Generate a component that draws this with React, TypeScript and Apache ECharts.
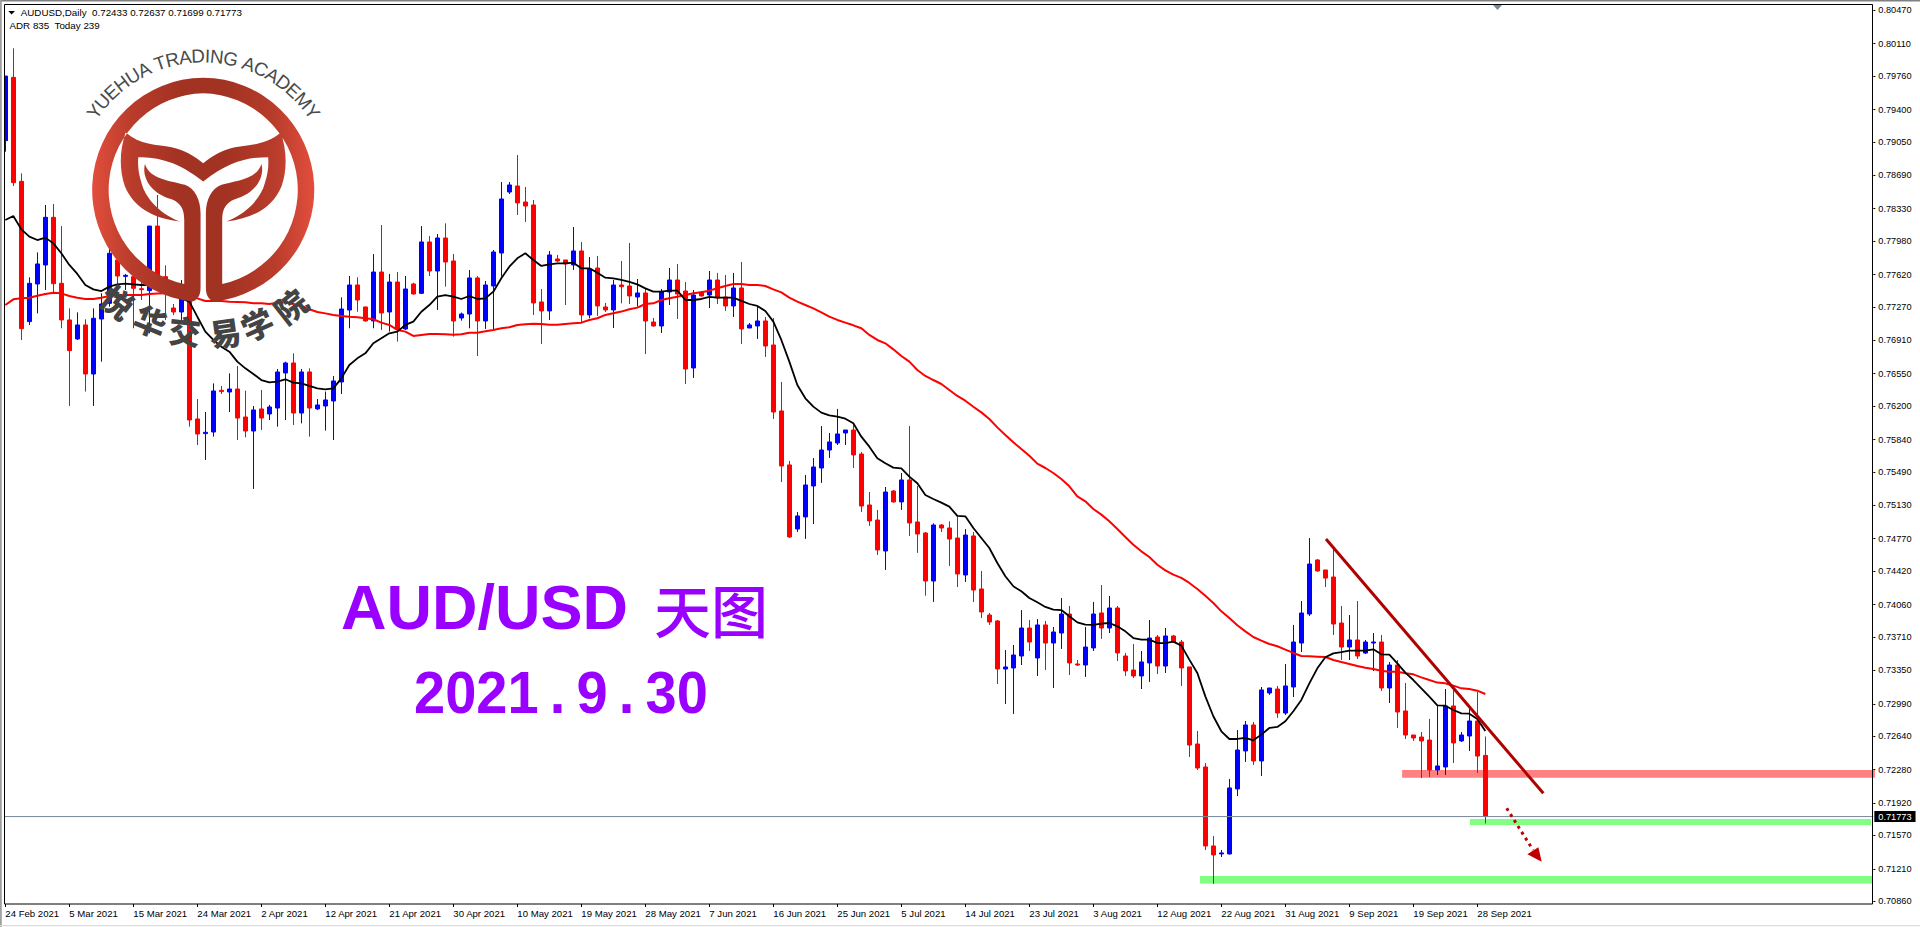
import React, { useEffect, useRef } from "react";
import * as echarts from "echarts";

const SCALE = 100000;
const tickDates = ["24 Feb 2021","5 Mar 2021","15 Mar 2021","24 Mar 2021","2 Apr 2021","12 Apr 2021","21 Apr 2021","30 Apr 2021","10 May 2021","19 May 2021","28 May 2021","7 Jun 2021","16 Jun 2021","25 Jun 2021","5 Jul 2021","14 Jul 2021","23 Jul 2021","3 Aug 2021","12 Aug 2021","22 Aug 2021","31 Aug 2021","9 Sep 2021","19 Sep 2021","28 Sep 2021"];
const priceTicks = [0.8047,0.8011,0.7976,0.794,0.7905,0.7869,0.7833,0.7798,0.7762,0.7727,0.7691,0.7655,0.762,0.7584,0.7549,0.7513,0.7477,0.7442,0.7406,0.7371,0.7335,0.7299,0.7264,0.7228,0.7192,0.7157,0.7121,0.7086];

const opens = [79064,79747,78625,77112,77518,77723,78237,77525,77130,76925,
77076,76547,77140,77309,77777,77600,77597,77467,77446,78143,
77597,77259,77216,77345,76062,75904,75921,76371,76353,76385,
76083,75932,76170,76116,76180,76558,76666,76126,76569,76170,
76202,76256,76461,77237,77507,77270,77119,77647,77216,77539,
77032,77518,77417,77971,77658,78014,77766,77151,77194,77583,
77119,77496,77852,78510,78575,78402,78370,77324,77227,77788,
77777,77723,77874,77184,77690,77270,77238,77507,77496,77378,
77421,77108,77065,77432,77561,77442,76612,77432,77399,77561,
77378,77281,77475,77043,77065,77119,76860,76148,75566,74875,
75005,75339,75533,75727,75803,75911,75943,75684,75134,74972,
74638,75285,75167,75404,74951,74832,74314,74918,74886,74778,
74379,74800,74228,73947,73883,73365,73376,73505,73807,73484,
73840,73645,73753,73958,73419,73408,73592,73969,73807,74023,
73505,73354,73290,73430,73710,73397,73721,73656,73387,72556,
72308,71456,71370,71370,72071,72481,72761,72373,73106,73149,
72890,73171,73645,73958,74541,74433,74357,73861,73602,73678,
73537,73645,73656,73160,73408,72912,72653,72631,72599,72276,
72308,72966,72589,72642,72804,72433];

const closes = [79761,78611,77036,77525,77734,78237,77521,77130,76799,77076,
76547,77148,77302,77849,77604,77611,77471,77457,78143,77604,
77435,77216,77453,76051,75900,75918,76364,76357,76385,76072,
75932,76159,76072,76191,76569,76666,76126,76569,76180,76213,
76267,76472,77248,77507,77345,77119,77647,77205,77539,77032,
77464,77410,77971,77658,78014,77755,77119,77194,77583,77119,
77507,77863,78435,78586,78392,78359,77313,77227,77831,77766,
77734,77874,77184,77680,77281,77238,77507,77489,77389,77421,
77119,77065,77432,77561,77410,76601,77399,77389,77561,77367,
77281,77475,77033,77076,77119,76849,76137,75555,74789,75016,
75350,75544,75727,75814,75900,75943,75674,75123,74962,74649,
75274,75167,75404,74940,74821,74314,74918,74886,74767,74390,
74810,74217,73980,73872,73365,73387,73516,73807,73656,73840,
73645,73764,73958,73430,73408,73602,73958,73807,74023,73538,
73344,73290,73441,73699,73397,73721,73656,73376,72545,72297,
71456,71359,71381,72082,72491,72761,72373,73139,73160,72890,
73182,73656,73969,74497,74422,74346,73850,73602,73678,73505,
73656,73656,73160,73408,72901,72653,72621,72589,72276,72319,
72966,72567,72653,72804,72426,71773];

const highs = [79761,80060,78711,77590,77859,78370,78381,78143,77255,77212,
77137,77255,77417,77920,77849,77626,77741,77561,78143,78478,
77719,77302,77561,77381,76277,76137,76446,76418,76554,76633,
76367,76202,76374,76213,76601,76680,76770,76601,76608,76277,
76357,76525,77374,77604,77590,77273,77841,78154,77626,77647,
77604,77532,78143,78036,78057,78172,77841,77209,77669,77604,
77550,77885,78618,78618,78909,78564,78424,77464,77874,77831,
77777,78133,77971,77809,77820,77313,77561,77766,77960,77572,
77471,77151,77464,77690,77734,77540,77453,77442,77658,77637,
77615,77637,77755,77097,77274,77162,77151,76461,75609,75059,
75458,75641,75986,75911,76170,75943,75997,75706,75274,75080,
75328,75296,75479,75986,75339,74843,74936,74929,74958,75012,
74875,74843,74422,73969,73894,73570,73624,74001,73894,73904,
73883,73818,74131,74045,73462,73818,74088,74271,74152,74045,
73538,73635,73559,73894,73732,73807,73732,73678,73387,72696,
72351,71564,71413,72179,72707,72804,72793,73171,73160,73182,
73419,73840,74098,74778,74551,74433,74670,74044,73947,74098,
73678,73753,73732,73440,73462,73214,72653,72685,72826,72977,
73149,73182,72685,72933,73117,72637];

const lows = [78945,78575,76914,77076,77201,77453,77417,77040,76202,76914,
76357,76202,76680,77273,77489,77453,77040,77345,76986,77489,
77130,77183,77130,75979,75781,75620,75871,76331,76137,75835,
75864,75307,75943,76051,75979,76051,75997,76015,75871,76159,
75936,75835,76331,77040,77219,77112,77040,77022,77004,76896,
77022,77403,77410,77604,77237,77489,76950,77122,77040,76741,
77033,77022,77597,78489,78262,78187,77184,76871,77130,77755,
77291,77669,77094,77148,77173,77216,77043,77309,77302,77274,
76763,77058,76989,77291,77140,76439,76504,77381,77259,77302,
77227,77162,76871,77043,76925,76731,76062,75382,74778,74843,
74768,74929,75372,75641,75781,75781,75533,75059,74908,74595,
74433,75159,75080,74800,74617,74156,74088,74843,74476,74249,
74303,74088,73915,73840,73203,72988,72880,73408,73559,73290,
73354,73160,73581,73300,73397,73279,73559,73689,73753,73451,
73290,73268,73149,73225,73311,73322,73645,73182,72416,72276,
71413,71046,71337,71363,71995,72362,72330,72211,73085,72837,
72869,73063,73548,73937,74415,74249,73732,73462,73462,73473,
73527,73343,73128,72998,72728,72610,72589,72189,72200,72222,
72222,72351,72578,72480,72243,71699];

const shortAverage = [78208,78251,78107,78028,77992,78018,77956,77849,77723,77626,
77507,77460,77442,77489,77514,77521,77514,77507,77507,77489,
77453,77417,77363,77327,77165,77004,76914,76842,76788,76680,
76608,76547,76482,76457,76464,76490,76454,76446,76418,76392,
76382,76392,76500,76644,76716,76770,76878,76932,76986,77004,
77076,77112,77219,77291,77381,77399,77381,77356,77388,77356,
77363,77435,77579,77705,77795,77849,77777,77712,77730,77741,
77741,77748,77687,77687,77640,77586,77579,77561,77540,77514,
77471,77435,77435,77446,77446,77345,77345,77356,77378,77371,
77371,77371,77335,77302,77281,77227,77112,76914,76680,76429,
76285,76195,76130,76101,76087,76065,76015,75871,75763,75638,
75584,75537,75530,75440,75368,75242,75199,75159,75116,75016,
75012,74886,74778,74670,74508,74365,74257,74203,74131,74084,
74034,74005,74001,73933,73868,73843,73840,73854,73861,73825,
73771,73699,73681,73681,73645,73645,73660,73617,73466,73322,
73070,72855,72693,72610,72610,72621,72596,72657,72729,72740,
72801,72909,73031,73210,73372,73491,73534,73548,73563,73563,
73563,73577,73523,73520,73426,73325,73246,73156,73066,72973,
72969,72923,72887,72883,72826,72696];

const longAverage = [77291,77352,77363,77370,77392,77410,77424,77417,77388,77370,
77356,77356,77370,77388,77399,77399,77399,77399,77410,77414,
77417,77417,77406,77388,77363,77334,77334,77334,77327,77324,
77320,77309,77309,77302,77316,77320,77302,77281,77245,77216,
77201,77183,77173,77165,77158,77148,77137,77101,77076,77022,
77004,76957,76968,76978,76978,76975,76971,76975,76993,76993,
77007,77022,77040,77051,77076,77083,77090,77087,77079,77079,
77087,77094,77101,77130,77148,77184,77202,77220,77245,77263,
77302,77309,77345,77363,77381,77399,77417,77428,77446,77471,
77496,77518,77518,77507,77507,77496,77460,77428,77371,77327,
77291,77255,77212,77166,77130,77101,77072,77040,76968,76914,
76878,76813,76741,76680,76590,76526,76482,76439,76375,76310,
76259,76194,76133,76061,75971,75889,75810,75738,75666,75580,
75533,75479,75414,75335,75227,75174,75091,75030,74958,74875,
74789,74706,74634,74573,74490,74429,74383,74347,74293,74228,
74156,74077,73987,73915,73836,73771,73710,73671,73635,73610,
73574,73538,73505,73502,73498,73494,73462,73440,73419,73397,
73379,73365,73347,73336,73336,73318,73307,73275,73246,73218,
73210,73185,73156,73149,73131,73095];

const lastPrice = 71773;
const trendLine = [[165.08, 74767], [192.25, 72024]];
const arrowShaft = [[187.67, 71863], [190.96, 71413]];
const arrowHead = [[192.05, 71287], [190.25, 71366], [191.63, 71442]];
const zoneRows = [
  [174.6, 233.7, 72276, 72193],
  [183.08, 233.2, 71747, 71683],
  [149.33, 233.34, 71132, 71050],
];
const zoneColors = ["#FF8080", "#80FF80", "#80FF80"];

const toPrice = (v: number) => v / SCALE;
const BAND_COUNT = 234;
const categories = Array.from({ length: BAND_COUNT }, (_, i) => (i % 8 === 0 && tickDates[i / 8]) || "");
const candleData = opens.map((o, i) => [toPrice(o), toPrice(closes[i]), toPrice(lows[i]), toPrice(highs[i])]);

const LOGO_D =
  "M355,113 A337,337 0 0 0 322,785 C335,783 347,770 347,745 L347,520 C347,480 330,445 300,435 C260,422 195,420 180,372 C170,410 195,460 260,478 C285,488 298,505 298,540 L298,733 A290,290 0 0 1 355,160 Z " +
  "M355,113 A337,337 0 0 1 388,785 C375,783 363,770 363,745 L363,520 C363,480 380,445 410,435 C450,422 515,420 530,372 C540,410 515,460 450,478 C425,488 412,505 412,540 L412,733 A290,290 0 0 0 355,160 Z " +
  "M122,278 C165,315 215,315 260,322 C300,330 330,350 355,370 C380,350 410,330 450,322 C495,315 545,315 588,278 C606,330 608,390 590,440 C565,500 510,535 425,545 C490,520 530,470 540,430 C550,400 552,375 550,352 C490,352 430,365 355,425 C280,365 220,352 160,352 C158,375 160,400 170,430 C180,470 220,520 285,545 C200,535 145,500 120,440 C102,390 104,330 122,278 Z";
echarts.graphic.registerShape("yuehuaLogo", (echarts.graphic as any).extendPath(LOGO_D, {}));

const SANS = "'Liberation Sans', Arial, sans-serif";
const CJK = "'Noto Sans CJK SC', sans-serif";

const logoLetters = "YUEHUA TRADING ACADEMY".split("");
const letterWidths = [0.667,0.722,0.667,0.722,0.722,0.667,0.278,0.611,0.722,0.667,0.722,0.278,0.722,0.778,0.278,0.667,0.722,0.667,0.722,0.667,0.833,0.667];
const logoHanzi = [
  { c: "悦", x: 118, y: 301, deg: -38 },
  { c: "华", x: 151, y: 320, deg: -22 },
  { c: "交", x: 185, y: 330, deg: -6 },
  { c: "易", x: 225, y: 331.7, deg: 8 },
  { c: "学", x: 256.7, y: 323.3, deg: 24 },
  { c: "院", x: 290, y: 305, deg: 38 },
];

function text(t: string, x: number, y: number, size: number, extra: any = {}, rotation = 0) {
  return {
    type: "text", x, y, rotation, z: 100, silent: true,
    style: { text: t, fontSize: size, fontFamily: SANS, fill: "#000", textAlign: "left", textVerticalAlign: "middle", ...extra },
  };
}

function buildGraphics() {
  const cx = 203.3, cy = 190, r = 134, fs = 18.8;
  const total = letterWidths.reduce((a, b) => a + b, 0) * fs;
  let s = 0;
  const letters: any[] = [];
  logoLetters.forEach((c, i) => {
    const w = letterWidths[i] * fs;
    const th = (s + w / 2 - total / 2) / r;
    s += w;
    if (c !== " ") {
      letters.push(text(c, cx + r * Math.sin(th), cy - r * Math.cos(th), fs, { fill: "#4a4a4a", textAlign: "center" }, -th));
    }
  });
  const gradient = new echarts.graphic.LinearGradient(0, 0, 1, 0, [
    { offset: 0, color: "#E34E3D" },
    { offset: 0.18, color: "#B83C2B" },
    { offset: 0.4, color: "#A23222" },
    { offset: 0.6, color: "#A23222" },
    { offset: 0.82, color: "#B83C2B" },
    { offset: 1, color: "#E34E3D" },
  ]);
  return [
    { type: "rect", z: 90, silent: true, shape: { x: 0, y: 0, width: 4.2, height: 927 }, style: { fill: "#fff" } },
    { type: "rect", z: 91, silent: true, shape: { x: 0, y: 0, width: 1920, height: 1.6 }, style: { fill: "#808080" } },
    { type: "rect", z: 91, silent: true, shape: { x: 0, y: 0, width: 1.8, height: 927 }, style: { fill: "#a0a0a0" } },
    { type: "rect", z: 91, silent: true, shape: { x: 0, y: 925, width: 1920, height: 1.2 }, style: { fill: "#dcdcdc" } },
    { type: "rect", z: 92, silent: true, shape: { x: 4.5, y: 4.5, width: 1868, height: 899.5 }, style: { fill: "none", stroke: "#000", lineWidth: 1 } },
    { type: "polygon", z: 93, silent: true, shape: { points: [[1493, 5], [1502, 5], [1497.5, 10]] }, style: { fill: "#778899" } },
    { type: "polygon", z: 93, silent: true, shape: { points: [[8.3, 11], [15, 11], [11.6, 14.5]] }, style: { fill: "#000" } },
    text("AUDUSD,Daily  0.72433 0.72637 0.71699 0.71773", 20.7, 12.7, 9.8),
    text("ADR 835  Today 239", 9.5, 25.7, 9.8),
    { type: "yuehuaLogo", x: 85, y: 40, scaleX: 1 / 3, scaleY: 1 / 3, z: 100, silent: true, style: { fill: gradient } },
    ...letters,
    ...logoHanzi.map((h) =>
      text(h.c, h.x, h.y, 32, { fill: "#444", fontFamily: CJK, fontWeight: 900, textAlign: "center" }, (h.deg * Math.PI) / 180)
    ),
    text("AUD/USD", 341, 607, 63, { fill: "#9900FF", fontWeight: "bold" }),
    text("天图", 654, 608, 57, { fill: "#9900FF", fontFamily: CJK, fontWeight: 500 }),
    { ...text("2021\u2009.\u20099\u2009.\u200930", 414, 692, 56, { fill: "#9900FF", fontWeight: "bold" }), scaleY: 1.06 },
  ];
}

function buildOption(): any {
  return {
    animation: false,
    backgroundColor: "#fff",
    grid: { left: 1.333, top: 4, width: 1872, height: 900, containLabel: false },
    xAxis: [
      {
        type: "category",
        data: categories,
        boundaryGap: true,
        axisLine: { show: false },
        axisTick: { show: true, alignWithLabel: true, length: 3, lineStyle: { color: "#000" }, interval: (i: number) => i % 8 === 0 && i <= 184 },
        axisLabel: { interval: (i: number) => i % 8 === 0 && i <= 184, align: "left", margin: 4, fontSize: 9.6, fontFamily: SANS, color: "#000" },
        splitLine: { show: false },
      },
      { type: "value", show: false, min: -0.5, max: BAND_COUNT - 0.5, splitLine: { show: false } },
    ],
    yAxis: {
      type: "value",
      position: "right",
      min: 0.7083,
      max: 0.80538,
      axisLine: { show: false, onZero: false },
      axisTick: { show: true, length: 2, lineStyle: { color: "#000" }, customValues: priceTicks },
      axisLabel: { customValues: priceTicks, margin: 5, fontSize: 9.2, fontFamily: SANS, color: "#000", formatter: (v: number) => v.toFixed(5) },
      splitLine: { show: false },
    },
    series: [
      {
        name: "zones",
        type: "custom",
        xAxisIndex: 1,
        z: 1,
        silent: true,
        encode: { x: [0, 1], y: [2, 3] },
        data: zoneRows.map((r) => [r[0], r[1], toPrice(r[2]), toPrice(r[3])]),
        renderItem: (p: any, api: any) => {
          const a = api.coord([api.value(0), api.value(2)]);
          const b = api.coord([api.value(1), api.value(3)]);
          return { type: "rect", shape: { x: a[0], y: a[1], width: b[0] - a[0], height: b[1] - a[1] }, style: { fill: zoneColors[p.dataIndex] } };
        },
      },
      {
        name: "AUDUSD",
        type: "candlestick",
        z: 2,
        silent: true,
        barWidth: 4,
        itemStyle: { color: "#0000FF", color0: "#FF0000", borderColor: "#0000FF", borderColor0: "#FF0000", borderWidth: 1 },
        data: candleData,
      },
      {
        name: "lastPrice", type: "line", xAxisIndex: 1, z: 3, silent: true, symbol: "none",
        data: [[-0.5, toPrice(lastPrice)], [BAND_COUNT - 0.5, toPrice(lastPrice)]],
        lineStyle: { color: "#778899", width: 1 },
        endLabel: {
          show: true, distance: 1, formatter: () => toPrice(lastPrice).toFixed(5), align: "left",
          color: "#fff", backgroundColor: "#000", padding: [1, 4, 1, 4], fontSize: 9.2, fontFamily: SANS,
        },
      },
      { name: "long", type: "line", z: 3, silent: true, symbol: "none", data: longAverage.map(toPrice), lineStyle: { color: "#FF0000", width: 2 } },
      { name: "short", type: "line", z: 3, silent: true, symbol: "none", data: shortAverage.map(toPrice), lineStyle: { color: "#000", width: 1.8 } },
      {
        name: "trend", type: "line", xAxisIndex: 1, z: 4, silent: true, symbol: "none",
        data: trendLine.map((d) => [d[0], toPrice(d[1])]),
        lineStyle: { color: "#B00000", width: 3 },
      },
      {
        name: "target", type: "line", xAxisIndex: 1, z: 4, silent: true, symbol: "none",
        data: arrowShaft.map((d) => [d[0], toPrice(d[1])]),
        lineStyle: { color: "#C00000", width: 3, type: [3, 4] },
      },
      {
        name: "arrowHead", type: "custom", xAxisIndex: 1, z: 4, silent: true,
        encode: { x: 0, y: 1 },
        data: arrowHead.map((d) => [d[0], toPrice(d[1])]),
        renderItem: (p: any, api: any) => {
          if (p.dataIndex !== 0) return null;
          const points = arrowHead.map((d) => api.coord([d[0], toPrice(d[1])]));
          return { type: "polygon", shape: { points }, style: { fill: "#C00000" } };
        },
      },
    ],
    graphic: { elements: buildGraphics() },
  };
}

export default function App() {
  const ref = useRef<HTMLDivElement>(null);
  useEffect(() => {
    const chart = echarts.init(ref.current as HTMLDivElement, undefined, { renderer: "svg" });
    chart.setOption(buildOption());
    return () => chart.dispose();
  }, []);
  return <div ref={ref} style={{ position: "absolute", left: 0, top: 0, width: 1920, height: 927 }} />;
}
